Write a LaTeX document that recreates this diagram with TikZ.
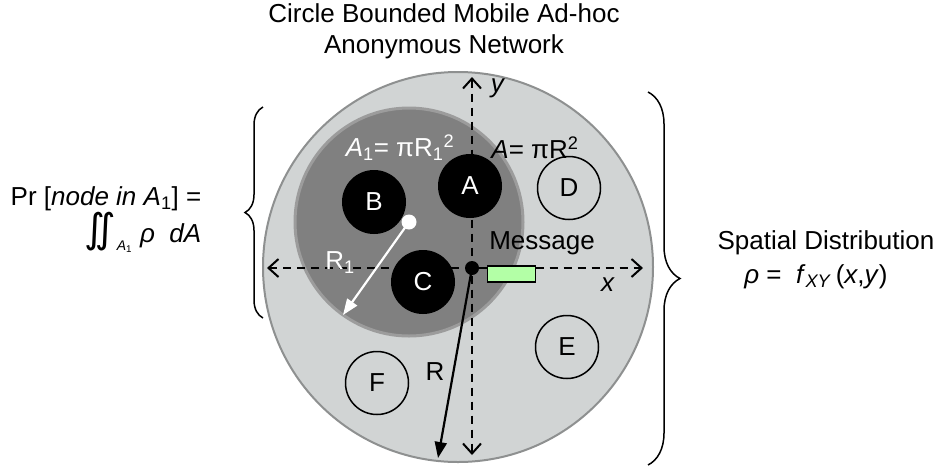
\documentclass[tikz,border=0pt]{standalone}
\usepackage{fontspec}
\setmainfont{Liberation Sans}
\newfontfamily\dejavu{DejaVu Sans}
\usetikzlibrary{arrows.meta,decorations.pathreplacing}

\definecolor{lightc}{HTML}{D1D4D4}
\definecolor{rimc}{HTML}{8E9090}
\definecolor{darkc}{HTML}{808080}
\definecolor{darkrim}{HTML}{9C9C9C}
\definecolor{msgc}{HTML}{B3FFA6}

\tikzset{
  blk/.style={circle, fill=black, text=white, minimum size=64pt, inner sep=0pt},
  wht/.style={circle, draw=black, line width=1.5pt, minimum size=63pt, inner sep=0pt},
  axis/.style={line width=2pt, dash pattern=on 8pt off 6pt, {Straight Barb[length=10pt,width=18pt]}-{Straight Barb[length=10pt,width=18pt]}},
  radarrow/.style={line width=2.2pt, -{Triangle[length=16pt,width=12pt]}},
  lbl/.style={inner sep=0pt},
  bracestyle/.style={decorate, line width=1.5pt},
}

\begin{document}
\begin{tikzpicture}[x=1pt,y=-1pt, font=\fontsize{26}{30}\selectfont]
\useasboundingbox (0,0) rectangle (940,467);

% title
\node[lbl, align=center, font=\fontsize{26}{31}\selectfont] (title) at (444,31) {Circle Bounded Mobile Ad-hoc\\Anonymous Network};

% circles
\node[circle, minimum size=390pt, inner sep=0pt, fill=lightc, draw=rimc, line width=2pt] (big) at (458,267) {};
\node[circle, minimum size=228pt, inner sep=0pt, fill=darkc, draw=darkrim, line width=3pt] (inner) at (409,222) {};

% axes
\coordinate (xl) at (267,268);
\coordinate (xr) at (643,268);
\coordinate (yt) at (472,77);
\coordinate (yb) at (472,455);
\draw[axis] (xl) -- (xr);
\draw[axis] (yt) -- (yb);

% nodes
\node[blk] (A) at (470,186) {A};
\node[blk] (B) at (374,202) {B};
\node[blk] (C) at (423,282) {C};
\node[wht] (D) at (569,188) {D};
\node[wht] (E) at (567,347) {E};
\node[wht] (F) at (377,383) {F};

% centre dots and radii
\node[circle, fill=black, minimum size=14pt, inner sep=0pt] (o) at (472,268) {};
\node[circle, fill=white, minimum size=15pt, inner sep=0pt] (o1) at (409,222) {};
\coordinate (rend) at (438,458);
\coordinate (r1end) at (343,315);
\draw[radarrow, black] (o.center) -- (rend);
\draw[radarrow, white] (o1.center) -- (r1end);

% message
\node[draw=black, fill=msgc, line width=1.5pt, minimum width=48pt, minimum height=16pt, inner sep=0pt] (msg) at (511.5,274) {};
\node[lbl] (msgl) at (542,243) {Message};

% labels
\node[lbl] (ylab) at (498,88) {\textit{y}};
\node[lbl] (xlab) at (608,285) {\textit{x}};
\node[lbl] (Alab) at (535,148) {\textit{A}= πR\textsuperscript{2}};
\node[lbl, text=white] (A1lab) at (400,148) {\textit{A}\textsubscript{1}= πR\textsubscript{1}\textsuperscript{2}};
\node[lbl, text=white] (R1lab) at (340,263) {R\textsubscript{1}};
\node[lbl] (Rlab) at (435,372) {R};

% braces
\coordinate (lb1) at (263,107);
\coordinate (lb2) at (263,318);
\draw[bracestyle, decoration={brace, amplitude=18pt}] (lb2) -- (lb1);
\coordinate (rb1) at (648,92);
\coordinate (rb2) at (648,465);
\draw[bracestyle, decoration={brace, amplitude=32pt}] (rb1) -- (rb2);

% left formula
\node[lbl, anchor=base west] (integ) at (84,242) {{\dejavu\fontsize{40}{42}\selectfont ∬}\hspace{1pt}\raisebox{-8pt}{\fontsize{14}{14}\selectfont\textit{A}\textsubscript{1}}\hspace{8pt}\textit{ρ}\ \ \textit{dA}};
\node[lbl] (pr) at (106,199) {Pr [\textit{node in A}\textsubscript{1}] =};

% right formula
\node[lbl] (sd) at (826,243) {Spatial Distribution};
\node[lbl] (rho) at (816,277) {\textit{ρ} =\ \ \textit{f}\textsubscript{\textit{XY}}\,(\textit{x},\textit{y})};
\end{tikzpicture}
\end{document}
